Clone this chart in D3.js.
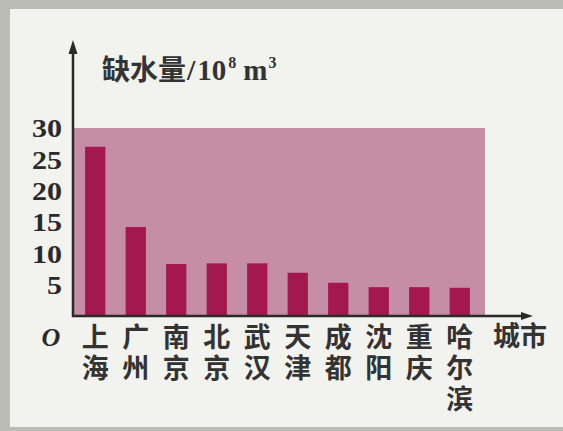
<!DOCTYPE html>
<html><head><meta charset="utf-8">
<script src="https://cdn.jsdelivr.net/npm/d3@7"></script>
<style>
html,body{margin:0;padding:0;background:#bcbcb6;}
svg{display:block;}
</style></head>
<body>
<svg id="c" width="563" height="431"></svg>
<script>
const cities = ["上海","广州","南京","北京","武汉","天津","成都","沈阳","重庆","哈尔滨"];
const shortage = [27, 14.2, 8.3, 8.4, 8.4, 6.9, 5.3, 4.6, 4.6, 4.5];
const yTicks = [5, 10, 15, 20, 25, 30];
const bandMax = [30];

const svg = d3.select("#c");
// paper
svg.append("rect").attr("x",10).attr("y",9).attr("width",553).attr("height",418).attr("fill","#f2f2ee");

const x0 = 73, baseY = 316;
const x = d3.scaleBand().domain(cities).range([75, 480]).paddingInner(0.5).paddingOuter(0.25);
const y = d3.scaleLinear().domain([0, 30]).range([baseY, 128]);

// pink band
svg.append("rect").attr("x", x0).attr("y", y(bandMax[0])).attr("width", 485 - x0)
  .attr("height", baseY - y(bandMax[0])).attr("fill", "#c58ea4");

// bars
svg.selectAll("rect.bar").data(cities).join("rect").attr("class","bar")
  .attr("x", d => x(d)).attr("width", x.bandwidth())
  .attr("y", (d,i) => y(shortage[i])).attr("height", (d,i) => baseY - y(shortage[i]))
  .attr("fill", "#a3184f");

// axes
const ink = "#2a2a2a";
svg.append("line").attr("x1",x0).attr("x2",x0).attr("y1",baseY+1).attr("y2",50).attr("stroke",ink).attr("stroke-width",2.5);
svg.append("path").attr("d",`M${x0},40 L${x0-4.5},54 L${x0+4.5},54 Z`).attr("fill",ink);
svg.append("line").attr("x1",x0-1).attr("x2",524).attr("y1",baseY).attr("y2",baseY).attr("stroke",ink).attr("stroke-width",2.5);
svg.append("path").attr("d",`M533,${baseY} L521,${baseY-4} L521,${baseY+4} Z`).attr("fill",ink);

// y tick labels
const yAxis = d3.axisLeft(y).tickValues(yTicks).tickSize(0).tickPadding(0);
const g = svg.append("g").attr("transform", `translate(62,0)`).call(yAxis);
g.select(".domain").remove();
g.selectAll("text").attr("font-family","Liberation Serif").attr("font-weight","bold")
  .attr("font-size",25).attr("fill","#2a2a2a")
  .attr("transform", "scale(1.2,1)")
  .attr("x", 0).attr("dy","0.35em");

// origin O
svg.append("text").attr("x",51).attr("y",346).attr("text-anchor","middle")
  .attr("font-family","Liberation Serif").attr("font-style","italic").attr("font-weight","bold")
  .attr("font-size",26).attr("fill","#2a2a2a").text("O");

// category labels (vertical)
const cjk = "'Noto Sans CJK SC'";
svg.selectAll("text.cat").data(cities).join("text").attr("class","cat")
  .attr("x", d => x(d) + x.bandwidth()/2).attr("y", 323)
  .attr("writing-mode","vertical-rl").style("letter-spacing","4px")
  .attr("font-family",cjk).attr("font-weight","bold").attr("font-size",27)
  .attr("fill","#333").text(d => d);

// x axis title
svg.append("text").attr("x",520).attr("y",346).attr("text-anchor","middle")
  .attr("font-family",cjk).attr("font-weight","bold").attr("font-size",27)
  .attr("fill","#333").text("城市");

// y axis title
const t = svg.append("text").attr("x",102).attr("y",80).attr("font-family",cjk)
  .attr("font-weight","bold").attr("font-size",28).attr("fill","#333");
t.append("tspan").text("缺水量");
t.append("tspan").attr("font-family","Liberation Serif").attr("font-size",30).attr("dx",1).text("/");
t.append("tspan").attr("font-family","Liberation Serif").attr("font-size",29).attr("dx",2).text("10");
t.append("tspan").attr("font-family","Liberation Serif").attr("font-size",16).attr("dy",-12).attr("dx",2).text("8");
t.append("tspan").attr("font-family","Liberation Serif").attr("font-size",29).attr("dy",12).attr("dx",7).text("m");
t.append("tspan").attr("font-family","Liberation Serif").attr("font-size",16).attr("dy",-12).attr("dx",1).text("3");
</script>
</body></html>
